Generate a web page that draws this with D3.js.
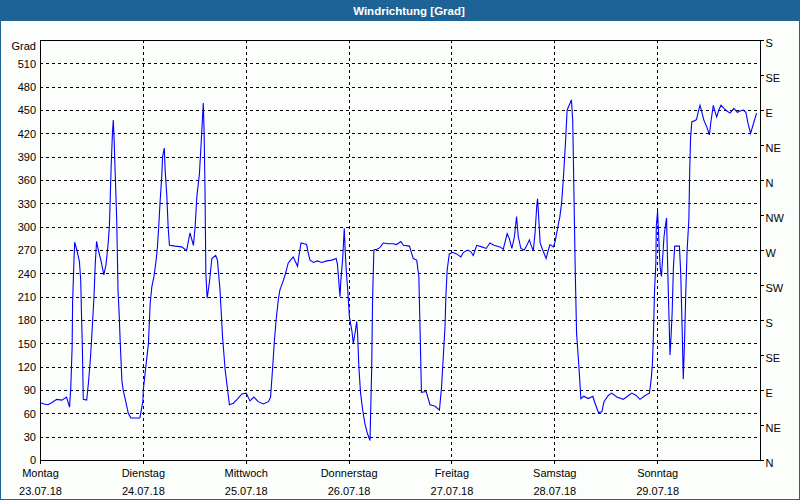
<!DOCTYPE html>
<html><head><meta charset="utf-8">
<script src="https://cdn.jsdelivr.net/npm/d3@7/dist/d3.min.js"></script>
<style>
html,body{margin:0;padding:0;background:#fff;}
svg{display:block;}
text{font-family:"Liberation Sans",Arial,sans-serif;font-size:11px;fill:#000;}
</style></head>
<body><svg id="c" width="800" height="500"></svg>
<script>
const title = "Windrichtung [Grad]";
const unitLabel = "Grad";
const dayNames = ["Montag","Dienstag","Mittwoch","Donnerstag","Freitag","Samstag","Sonntag"];
const dayDates = ["23.07.18","24.07.18","25.07.18","26.07.18","27.07.18","28.07.18","29.07.18"];
const dayHours = [0,24,48,72,96,120,144];
const gradTicks = [0,30,60,90,120,150,180,210,240,270,300,330,360,390,420,450,480,510];
const compassTicks = [0,45,90,135,180,225,270,315,360,405,450,495,540];
const compassLabels = ["N","NE","E","SE","S","SW","W","NW","N","NE","E","SE","S"];

// hours since Monday 23.07.18 00:00
const hours = [0.1,0.9,1.9,2.8,3.9,5.1,6.2,6.9,7.2,7.5,7.6,7.9,8.1,8.6,9.2,9.5,9.7,9.9,10.1,10.9,
11.3,11.8,12.3,12.6,12.9,13.2,13.6,14.2,14.9,15.4,15.9,16.2,16.4,16.6,16.9,17.1,17.3,17.6,17.9,18.2,
18.5,18.7,19.1,19.4,20.1,20.6,21.2,23.3,24.0,24.1,24.4,24.7,25.3,25.7,26.1,26.6,27.1,27.4,27.7,28.0,
28.4,28.6,29.0,29.2,29.6,29.9,30.2,31.5,33.1,34.2,35.0,35.8,36.2,36.6,37.2,37.6,38.1,38.3,38.5,38.7,
39.0,39.5,40.1,41.0,41.4,42.0,42.6,43.2,44.2,45.1,46.0,47.1,48.1,49.0,49.9,50.9,52.1,53.3,53.8,54.3,
54.7,55.1,55.6,56.0,56.8,57.4,57.9,58.6,59.1,59.6,60.1,60.4,60.9,61.6,62.2,62.6,63.0,63.8,64.7,65.7,
66.9,68.1,69.1,69.4,69.7,70.0,70.2,70.6,71.0,71.2,71.5,71.8,72.2,72.5,72.8,73.1,73.5,73.9,74.1,74.4,
74.8,75.3,75.8,76.4,77.0,77.4,77.6,77.9,78.6,79.3,80.1,81.3,82.4,83.2,84.2,84.8,86.2,86.7,87.1,87.9,
88.4,88.7,89.0,90.1,91.0,92.2,93.2,93.7,94.1,94.5,94.7,95.0,95.5,96.3,97.2,98.2,98.8,99.8,100.5,101.1,
101.9,103.1,104.1,105.0,105.9,107.3,108.1,109.0,109.5,110.1,110.7,111.2,111.6,112.2,113.0,113.6,114.2,114.6,115.1,115.5,
115.9,116.1,116.4,116.7,117.3,118.1,118.6,119.0,119.8,120.2,120.7,121.3,121.7,122.1,122.6,123.0,123.7,124.0,124.3,124.6,
124.9,125.2,125.7,126.2,126.9,127.9,129.0,129.5,130.3,131.1,131.6,132.6,133.4,134.6,136.1,137.3,138.1,139.1,140.0,141.2,
142.2,142.6,142.9,143.1,143.4,143.7,143.8,144.1,144.3,144.5,144.7,145.0,145.3,145.6,145.9,146.2,146.4,146.7,147.0,147.2,
147.5,147.8,148.1,149.2,149.5,149.8,150.1,150.4,150.7,151.0,151.4,151.6,151.8,152.1,152.7,153.2,153.6,154.0,154.4,154.9,
155.6,156.2,156.5,157.1,157.5,157.9,158.4,158.9,159.6,160.2,161.0,161.9,162.7,163.5,164.1,164.7,165.2,165.8,166.5,167.2];
const degrees = [74,72,71,74,78,77,81,68,95,146,201,253,280,270,255,231,184,141,78,77,
99,133,180,210,253,281,270,257,238,251,278,302,339,377,420,437,411,360,309,219,
184,154,103,90,73,60,54,54,75,90,105,120,150,201,223,236,257,274,300,330,
364,390,401,373,339,300,276,275,274,269,292,276,300,339,368,407,459,420,347,240,
208,227,259,263,257,219,158,116,71,73,78,85,86,76,81,75,72,75,81,120,
154,180,206,219,231,242,253,258,261,255,249,262,279,278,277,266,257,254,256,254,
256,257,259,252,231,210,231,257,298,270,240,219,184,174,165,150,163,178,163,120,
86,64,47,34,25,120,206,270,271,273,279,278,278,277,281,276,275,266,259,257,
236,163,87,88,71,69,64,94,133,171,210,244,265,267,265,261,267,270,268,263,
276,274,272,279,276,274,271,291,285,272,287,313,287,272,270,276,283,276,269,291,
326,336,309,279,270,259,270,277,274,281,296,313,330,360,407,450,459,463,437,339,
240,163,124,79,82,79,82,73,61,62,75,83,86,81,78,83,86,83,78,83,
86,103,124,154,219,253,300,320,296,270,248,236,261,287,300,311,261,197,135,154,
189,248,275,275,240,176,104,154,219,270,309,373,414,435,436,438,448,456,448,437,
428,418,433,456,448,441,450,456,452,449,446,452,447,449,450,447,433,420,433,446];

const data = hours.map((h,i)=>({h, v: degrees[i]}));
const W = 800, H = 500;
const m = {l:40, r:760, t:40, b:460};
const svg = d3.select("#c");
const blue = "#1e6395";

svg.append("rect").attr("x",0).attr("y",0).attr("width",W).attr("height",H).attr("fill","#fcfefc");
svg.append("rect").attr("x",0.5).attr("y",0.5).attr("width",W-1).attr("height",H-1)
  .attr("fill","none").attr("stroke",blue).attr("stroke-width",1);
svg.append("rect").attr("x",0).attr("y",0).attr("width",W).attr("height",21).attr("fill",blue);
svg.append("text").attr("x",409).attr("y",11).attr("text-anchor","middle").attr("dominant-baseline","central")
  .style("font-weight","bold").style("font-size","11.5px").style("fill","#fff").text(title);

const x = d3.scaleLinear().domain([0,168]).range([m.l, m.r]);
const y = d3.scaleLinear().domain([0,540]).range([m.b, m.t]);

// horizontal grid
const gy = svg.append("g").attr("transform",`translate(${m.l},0)`)
  .call(d3.axisLeft(y).tickValues(gradTicks.filter(d=>d>0)).tickSize(-(m.r-m.l)).tickFormat(""));
gy.select(".domain").remove();
gy.selectAll("line").attr("stroke","#000").attr("stroke-dasharray","3,3").attr("shape-rendering","crispEdges");
// vertical grid
const gx = svg.append("g").attr("transform",`translate(0,${m.t})`)
  .call(d3.axisBottom(x).tickValues(dayHours.filter(d=>d>0)).tickSize(m.b-m.t).tickFormat(""));
gx.select(".domain").remove();
gx.selectAll("line").attr("stroke","#000").attr("stroke-dasharray","3,3").attr("shape-rendering","crispEdges");

// frame
svg.append("rect").attr("x",m.l+0.5).attr("y",m.t+0.5).attr("width",m.r-m.l).attr("height",m.b-m.t)
  .attr("fill","none").attr("stroke","#000").attr("shape-rendering","crispEdges");

// left axis
const la = svg.append("g").attr("transform",`translate(${m.l},0)`)
  .call(d3.axisLeft(y).tickValues(gradTicks).tickSize(0).tickPadding(4));
la.select(".domain").remove();
la.selectAll("text").style("font-family","Liberation Sans, Arial, sans-serif").style("font-size","11px").attr("dy","0.36em");
svg.append("text").attr("x",36).attr("y",46).attr("text-anchor","end").attr("dominant-baseline","central").text(unitLabel);

// right axis
const ra = svg.append("g").attr("transform",`translate(${m.r+0.5},0)`)
  .call(d3.axisRight(y).tickValues(compassTicks).tickSize(3).tickPadding(2)
    .tickFormat((d,i)=>compassLabels[i]));
ra.select(".domain").remove();
ra.selectAll("line").attr("stroke","#000").attr("shape-rendering","crispEdges");
ra.selectAll("text").style("font-family","Liberation Sans, Arial, sans-serif").style("font-size","11px").attr("dy","0.55em");

// bottom axis
const ba = svg.append("g").attr("transform",`translate(0,${m.b+0.5})`)
  .call(d3.axisBottom(x).tickValues(dayHours).tickSize(3).tickFormat(""));
ba.select(".domain").remove();
ba.selectAll("line").attr("stroke","#000").attr("shape-rendering","crispEdges");
ba.selectAll(".tick").each(function(d,i){
  const g = d3.select(this);
  g.append("text").attr("y",12).attr("text-anchor","middle").attr("dominant-baseline","central")
    .style("font-family","Liberation Sans, Arial, sans-serif").style("font-size","11px").attr("fill","#000").text(dayNames[i]);
  g.append("text").attr("y",30).attr("text-anchor","middle").attr("dominant-baseline","central")
    .style("font-family","Liberation Sans, Arial, sans-serif").style("font-size","11px").attr("fill","#000").text(dayDates[i]);
});

// line
svg.append("path").datum(data)
  .attr("fill","none").attr("stroke","#0000ff").attr("stroke-width",1.1)
  .attr("d", d3.line().x(d=>x(d.h)).y(d=>y(d.v)));
</script></body></html>
